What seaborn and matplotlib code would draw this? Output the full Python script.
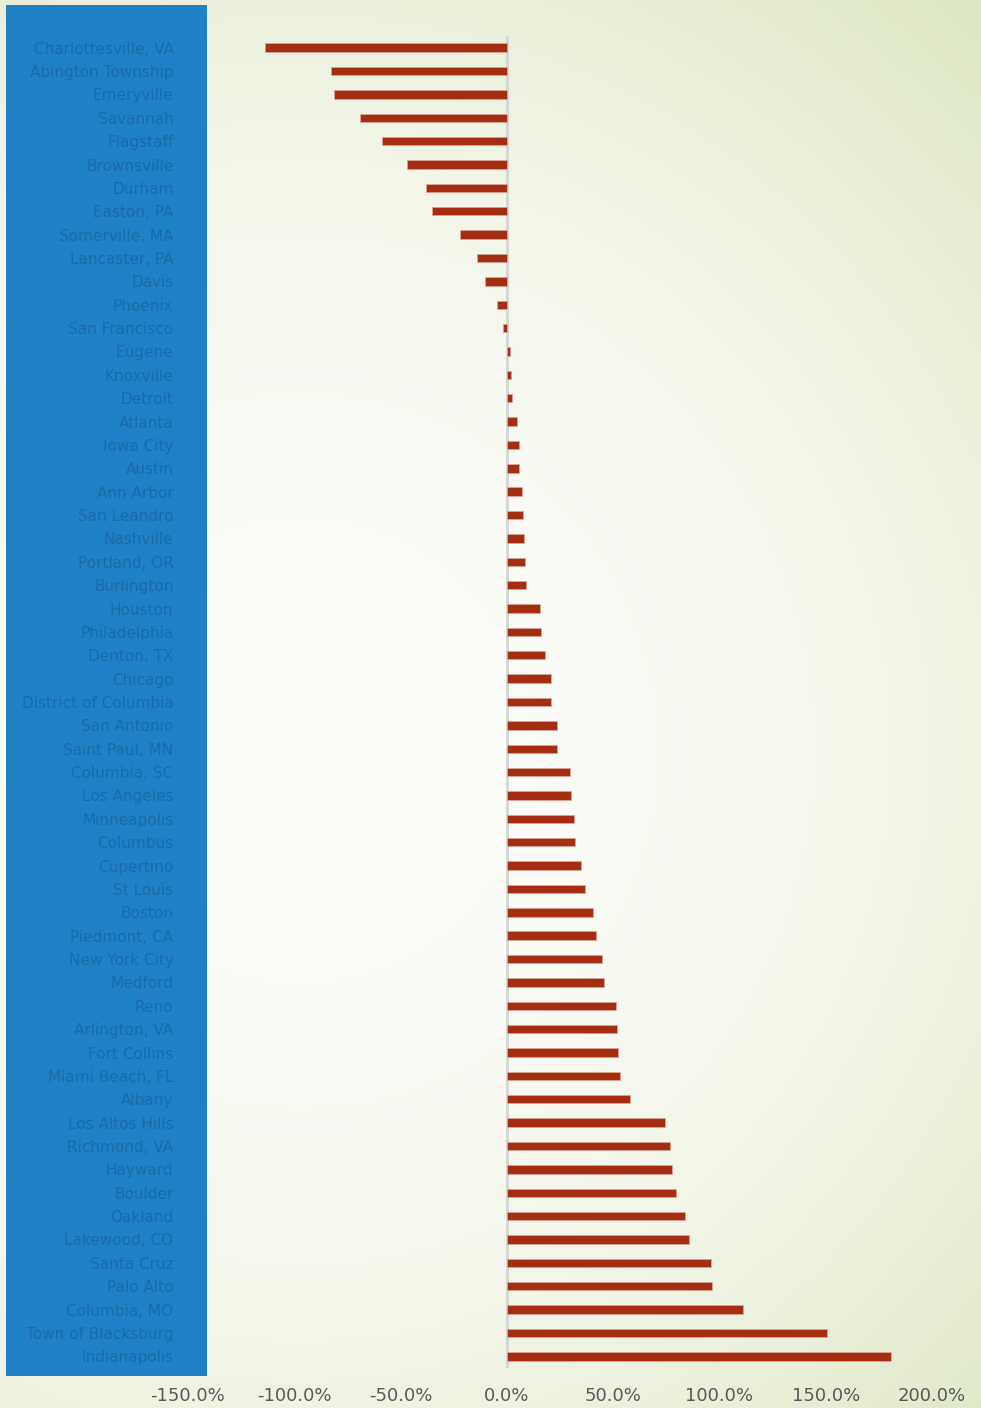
import numpy as np
import pandas as pd
import matplotlib
matplotlib.use("Agg")
import matplotlib.pyplot as plt
from matplotlib.patches import Rectangle
from matplotlib.ticker import FuncFormatter
import seaborn as sns

cities = [
    "Charlottesville, VA", "Abington Township", "Emeryville", "Savannah", "Flagstaff",
    "Brownsville", "Durham", "Easton, PA", "Somerville, MA", "Lancaster, PA",
    "Davis", "Phoenix", "San Francisco", "Eugene", "Knoxville",
    "Detroit", "Atlanta", "Iowa City", "Austin", "Ann Arbor",
    "San Leandro", "Nashville", "Portland, OR", "Burlington", "Houston",
    "Philadelphia", "Denton, TX", "Chicago", "District of Columbia", "San Antonio",
    "Saint Paul, MN", "Columbia, SC", "Los Angeles", "Minneapolis", "Columbus",
    "Cupertino", "St Louis", "Boston", "Piedmont, CA", "New York City",
    "Medford", "Reno", "Arlington, VA", "Fort Collins", "Miami Beach, FL",
    "Albany", "Los Altos Hills", "Richmond, VA", "Hayward", "Boulder",
    "Oakland", "Lakewood, CO", "Santa Cruz", "Palo Alto", "Columbia, MO",
    "Town of Blacksburg", "Indianapolis",
]

change_pct = [
    -113.8, -82.5, -81.1, -69.0, -58.6,
    -47.0, -38.1, -35.0, -22.1, -14.0,
    -10.3, -4.6, -1.7, 1.4, 1.9,
    2.5, 4.7, 5.5, 5.8, 7.1,
    7.7, 8.0, 8.5, 9.1, 15.7,
    16.1, 18.0, 20.7, 21.0, 23.5,
    23.8, 29.6, 30.4, 31.5, 32.1,
    35.1, 36.7, 40.3, 42.0, 44.7,
    45.6, 51.3, 51.6, 52.4, 53.2,
    58.0, 74.3, 76.7, 77.6, 79.5,
    84.0, 85.8, 96.0, 96.3, 111.0,
    150.8, 180.6,
]

x_ticks = [-150, -100, -50, 0, 50, 100, 150, 200]

df = pd.DataFrame({"city": cities, "change": change_pct})

sns.set_theme(style="white")
plt.rcParams["font.family"] = ["DejaVu Sans"]

W, H = 981, 1408
fig = plt.figure(figsize=(W / 100, H / 100), dpi=100)

# soft radial backdrop: near-white centre fading to pale green
bg = fig.add_axes([0, 0, 1, 1])
yy, xx = np.mgrid[0:H, 0:W]
d = np.hypot(xx - 300, yy - 750) / 1013.0
t = np.clip(d, 0, 1) ** 2.0
c_in = np.array([253, 253, 250]) / 255.0
c_out = np.array([221, 230, 195]) / 255.0
img = c_in[None, None, :] * (1 - t[..., None]) + c_out[None, None, :] * t[..., None]
bg.imshow(img, extent=(0, W, H, 0), aspect="auto", interpolation="bilinear")
bg.set_xlim(0, W)
bg.set_ylim(H, 0)
bg.axis("off")

# blue label band
bg.add_patch(Rectangle((6, 5), 201, 1371, facecolor="#1f80c5", edgecolor="none"))

# chart area
ax = fig.add_axes([188 / W, 1 - 1368 / H, (932 - 188) / W, (1368 - 36) / H])
ax.patch.set_alpha(0)

ax.axvline(0, color="#d6d6d6", lw=2.0, zorder=1)
sns.barplot(
    data=df, x="change", y="city", orient="h", color="#a52d12", saturation=1,
    width=0.36, edgecolor="#d9a595", linewidth=0.6, ax=ax, zorder=2,
)

ax.set_xlim(-150, 200)
ax.set_ylim(len(cities) - 0.5, -0.5)
ax.set_xticks(x_ticks)
ax.xaxis.set_major_formatter(FuncFormatter(lambda v, p: f"{v:.1f}%"))
ax.set_xlabel("")
ax.set_ylabel("")
for s in ax.spines.values():
    s.set_visible(False)
ax.tick_params(axis="x", length=0, pad=14, labelsize=13, labelcolor="#595959")
ax.tick_params(axis="y", length=0, pad=10.5, labelsize=11, labelcolor="#1a6aa8")
ax.grid(False)

fig.savefig("out.png", dpi=100)
